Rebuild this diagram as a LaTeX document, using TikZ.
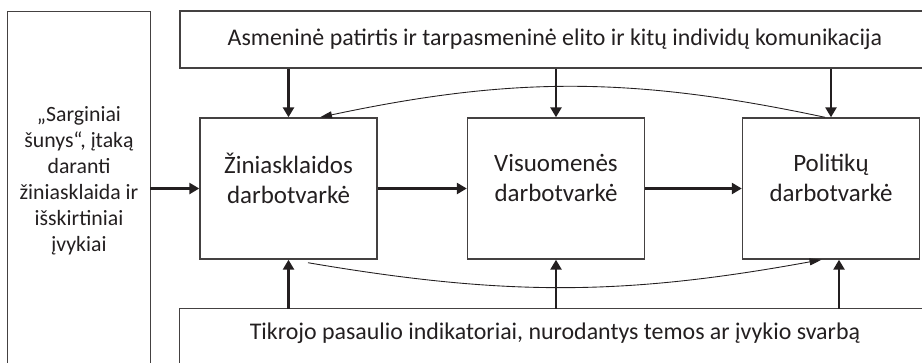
\documentclass[tikz,border=0pt]{standalone}
\usepackage{fontspec}
\setmainfont{Carlito}
\usetikzlibrary{arrows.meta}
\definecolor{ink}{HTML}{231F20}
\tikzset{
  frame/.style={draw=ink!85, line width=0.8pt},
  agenda/.style={frame, align=center, inner sep=0pt, text=ink,
    minimum width=35.4mm, minimum height=28.2mm,
    font=\fontsize{14.2}{17}\selectfont},
  push/.style={draw=ink, line width=1.4pt, -{Triangle[length=2mm,width=2.2mm]}},
  loop/.style={draw=ink, line width=0.5pt, -{Triangle[length=2.4mm,width=1.4mm]}}
}
\begin{document}
\begin{tikzpicture}[x=0.2mm, y=-0.2mm]
  \useasboundingbox (0,0) rectangle (922,362);
  \clip (0,0) rectangle (922,362);
  \coordinate (floor) at (0,385);
  % outer boxes
  \node[frame, inner sep=0pt, text=ink, minimum width=150mm, minimum height=11.4mm,
    font=\fontsize{13.6}{16}\selectfont] (talk) at (555,39.5)
    {Asmeninė patirtis ir tarpasmeninė elito ir kitų individų komunikacija};
  \node[inner sep=0pt, text=ink, minimum width=150mm, minimum height=9.6mm,
    font=\fontsize{13.6}{16}\selectfont] (real) at (555,333)
    {Tikrojo pasaulio indikatoriai, nurodantys temos ar įvykio svarbą};
  \draw[frame] (real.north west |- floor) -- (real.north west) -- (real.north east) -- (real.north east |- floor);
  \node[inner sep=0pt, text=ink, align=center, minimum width=28.4mm, minimum height=67.6mm,
    font=\fontsize{12.4}{14.8}\selectfont] (watch) at (79,181)
    {„Sarginiai\\šunys“, įtaką\\daranti\\žiniasklaida ir\\išskirtiniai\\įvykiai};
  \draw[frame] (watch.north west |- floor) -- (watch.north west) -- (watch.north east) -- (watch.north east |- floor);
  % agendas
  \node[agenda] (media) at (288.5,188.5) {Žiniasklaidos\\darbotvarkė\\[-5pt]};
  \node[agenda] (public) at (556,188.5) {Visuomenės\\darbotvarkė\\[-5pt]};
  \node[agenda] (politics) at (831,188.5) {Politikų\\darbotvarkė\\[-5pt]};
  % arrows
  \draw[push] (media.west -| watch.east) -- (media.west);
  \draw[push] (media) -- (public);
  \draw[push] (public) -- (politics);
  \foreach \n in {media,public,politics}
    \draw[push] (talk.south -| \n.north) -- (\n.north);
  \coordinate (pin) at ([xshift=1.6mm]politics.south);
  \draw[push] (real.north -| media.south) -- (media.south);
  \draw[push] (real.north -| public.south) -- (public.south);
  \draw[push] (real.north -| pin) -- (pin);
  % feedback curves
  \draw[loop] ([xshift=-1.2mm]politics.north) to[bend right=12] ([xshift=6.3mm]media.north);
  \draw[loop] ([xshift=3.9mm,yshift=-0.6mm]media.south) to[bend right=10] ([xshift=-1.9mm]politics.south);
\end{tikzpicture}
\end{document}
